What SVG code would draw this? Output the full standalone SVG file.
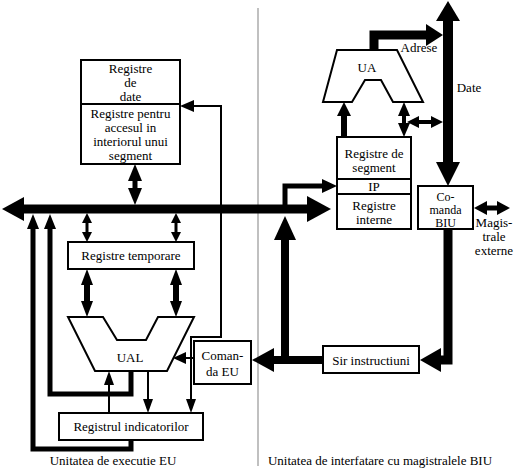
<svg xmlns="http://www.w3.org/2000/svg" width="518" height="470" viewBox="0 0 518 470" font-family="Liberation Serif, Times New Roman, serif">
<style>
.box{fill:#fff;stroke:#000;stroke-width:2}
.t{font-size:13px;fill:#000;text-anchor:middle}
.s{font-size:12px}
.ln{fill:none;stroke:#000;stroke-linejoin:miter}
.hd{fill:#000;stroke:none}
</style>
<rect width="518" height="470" fill="#fff"/>
<line x1="258" y1="8" x2="258" y2="466" stroke="#c0c0c0" stroke-width="2"/>

<g id="connectors">
  <line class="ln" x1="22" y1="209" x2="309" y2="209" stroke-width="9"/>
  <polygon class="hd" points="2,209 24,197 24,221"/>
  <polygon class="hd" points="331,209 307,196 307,222"/>

  <line class="ln" x1="135" y1="178" x2="135" y2="192" stroke-width="5"/>
  <polygon class="hd" points="135,164 128,181 142,181"/>
  <polygon class="hd" points="135,205 128,188 142,188"/>

  <line class="ln" x1="87" y1="220" x2="87" y2="234" stroke-width="3"/>
  <polygon class="hd" points="87,213 82,223 92,223"/>
  <polygon class="hd" points="87,242 82,232 92,232"/>
  <line class="ln" x1="176" y1="220" x2="176" y2="234" stroke-width="3"/>
  <polygon class="hd" points="176,213 171,223 181,223"/>
  <polygon class="hd" points="176,242 171,232 181,232"/>

  <line class="ln" x1="87" y1="280" x2="87" y2="306" stroke-width="6"/>
  <polygon class="hd" points="87,269 81,285 93,285"/>
  <polygon class="hd" points="87,317 81,301 93,301"/>
  <line class="ln" x1="176" y1="280" x2="176" y2="306" stroke-width="6"/>
  <polygon class="hd" points="176,269 170,285 182,285"/>
  <polygon class="hd" points="176,317 170,301 182,301"/>

  <path class="ln" d="M131,440 V449 H33 V226" stroke-width="5"/>
  <polygon class="hd" points="33,214 27,229 39,229"/>
  <path class="ln" d="M131,371 V394 H50 V226" stroke-width="5"/>
  <polygon class="hd" points="50,214 44,229 56,229"/>

  <line class="ln" x1="109" y1="413" x2="109" y2="382" stroke-width="2"/>
  <polygon class="hd" points="109,371 104,385 114,385"/>
  <line class="ln" x1="148" y1="371" x2="148" y2="402" stroke-width="2"/>
  <polygon class="hd" points="148,413 143,399 153,399"/>

  <path class="ln" d="M191,402 V337 H221 V106 H192" stroke-width="2"/>
  <polygon class="hd" points="180,106 194,100 194,112"/>
  <polygon class="hd" points="191,413 186,399 196,399"/>
  <line class="ln" x1="194" y1="358" x2="184" y2="358" stroke-width="2"/>
  <polygon class="hd" points="173,358 186,352 186,364"/>

  <line class="ln" x1="323" y1="360" x2="272" y2="360" stroke-width="8"/>
  <polygon class="hd" points="252,360 274,348 274,372"/>
  <line class="ln" x1="285" y1="364" x2="285" y2="236" stroke-width="8"/>
  <polygon class="hd" points="285,216 274,240 296,240"/>
  <path class="ln" d="M285,209 V186 H324" stroke-width="5"/>
  <polygon class="hd" points="337,186 322,179 322,193"/>

  <line class="ln" x1="448" y1="18" x2="448" y2="165" stroke-width="10"/>
  <polygon class="hd" points="448,1 436,21 460,21"/>
  <polygon class="hd" points="448,186 436,162 460,162"/>
  <path class="ln" d="M448,229 V360 H438" stroke-width="9"/>
  <polygon class="hd" points="420,360 441,348 441,372"/>

  <path class="ln" d="M374,51 V35 H428" stroke-width="9"/>
  <polygon class="hd" points="443,35 426,24 426,46"/>

  <line class="ln" x1="416" y1="122" x2="434" y2="122" stroke-width="4"/>
  <polygon class="hd" points="407,122 419,116 419,128"/>
  <polygon class="hd" points="443,122 431,116 431,128"/>

  <line class="ln" x1="404" y1="112" x2="404" y2="127" stroke-width="4"/>
  <polygon class="hd" points="404,102 398,116 410,116"/>
  <polygon class="hd" points="404,137 398,123 410,123"/>
  <line class="ln" x1="344" y1="137" x2="344" y2="112" stroke-width="6"/>
  <polygon class="hd" points="344,102 337,116 351,116"/>

  <line class="ln" x1="484" y1="208" x2="500" y2="208" stroke-width="5"/>
  <polygon class="hd" points="474,208 487,201 487,215"/>
  <polygon class="hd" points="510,208 497,201 497,215"/>
</g>

<g id="registre-date">
  <rect class="box" x="81" y="60" width="99" height="104"/>
  <line x1="81" y1="104" x2="180" y2="104" stroke="#000" stroke-width="2"/>
  <text class="t" x="130.5" y="72.5">Registre</text>
  <text class="t" x="130.5" y="86.5">de</text>
  <text class="t" x="130.5" y="100.5">date</text>
  <text class="t" x="130.5" y="118">Registre pentru</text>
  <text class="t" x="130.5" y="132">accesul in</text>
  <text class="t" x="130.5" y="146">interiorul unui</text>
  <text class="t" x="130.5" y="160">segment</text>
</g>

<g id="registre-temporare">
  <rect class="box" x="68" y="242" width="126" height="27"/>
  <text class="t" x="131" y="260">Registre temporare</text>
</g>

<g id="ual">
  <polygon points="68,317 103,317 117,340 146,340 158,317 194,317 167,371 95,371" fill="#fff" stroke="#000" stroke-width="2" stroke-linejoin="miter"/>
  <text class="t" x="130" y="362">UAL</text>
</g>

<g id="comanda-eu">
  <rect class="box" x="194" y="341" width="57" height="43"/>
  <text class="t" x="222.5" y="360">Coman-</text>
  <text class="t" x="222.5" y="376">da EU</text>
</g>

<g id="registrul-indicatorilor">
  <rect class="box" x="59" y="413" width="144" height="27"/>
  <text class="t" x="131" y="431">Registrul indicatorilor</text>
</g>

<g id="ua">
  <polygon points="337,50 397,50 423,102 393,102 381,80 365,80 352,102 323,102" fill="#fff" stroke="#000" stroke-width="2" stroke-linejoin="miter"/>
  <text class="t" x="367" y="72">UA</text>
</g>

<g id="registre-segment">
  <rect class="box" x="337" y="137" width="74" height="92"/>
  <line x1="337" y1="179" x2="411" y2="179" stroke="#000" stroke-width="2"/>
  <line x1="337" y1="194" x2="411" y2="194" stroke="#000" stroke-width="2"/>
  <text class="t" x="374" y="157.5">Registre de</text>
  <text class="t" x="374" y="171.5">segment</text>
  <text class="t" x="374" y="191">IP</text>
  <text class="t" x="374" y="209.5">Registre</text>
  <text class="t" x="374" y="223.5">interne</text>
</g>

<g id="comanda-biu">
  <rect class="box" x="418" y="186" width="55" height="43"/>
  <text class="t s" x="445.5" y="201">Co-</text>
  <text class="t s" x="445.5" y="214">manda</text>
  <text class="t s" x="445.5" y="227">BIU</text>
</g>

<g id="sir-instructiuni">
  <rect class="box" x="323" y="346" width="96" height="27"/>
  <text class="t" x="371" y="364.5">Sir instructiuni</text>
</g>

<g id="labels">
  <text class="t" x="419" y="52">Adrese</text>
  <text class="t" x="469" y="92">Date</text>
  <text class="t" x="494" y="227">Magis-</text>
  <text class="t" x="494" y="241">trale</text>
  <text class="t" x="494" y="255">externe</text>
  <text class="t" x="113" y="464.5">Unitatea de executie EU</text>
  <text class="t" x="380" y="464.5">Unitatea de interfatare cu magistralele BIU</text>
</g>
</svg>
